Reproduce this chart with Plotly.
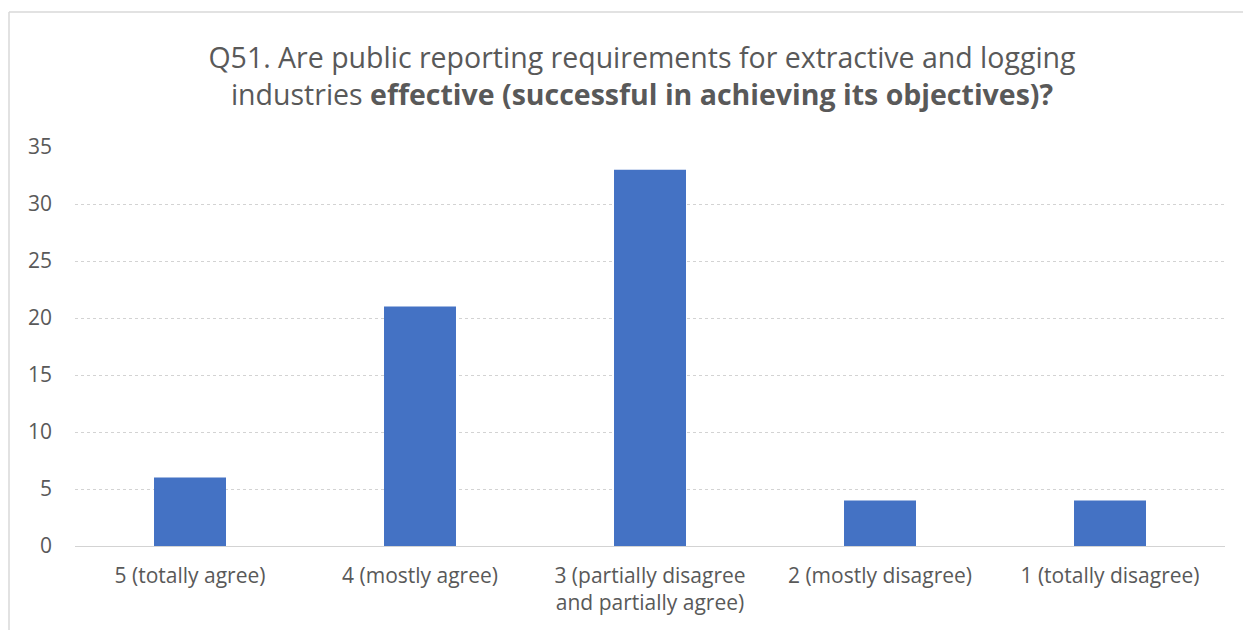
import plotly.graph_objects as go

categories = ["5 (totally agree)", "4 (mostly agree)", "3 (partially disagree<br>and partially agree)",
              "2 (mostly disagree)", "1 (totally disagree)"]
values = [6, 21, 33, 4, 4]
y_ticks = [0, 5, 10, 15, 20, 25, 30, 35]

W, H = 1243, 630
L, R, T, B = 75, 1225, 147, 546
FONT = "Open Sans, Lato, sans-serif"

fig = go.Figure(go.Bar(x=categories, y=values, marker_color="#4472C4",
                       marker_line_width=0, hoverinfo="skip"))

fig.update_layout(
    width=W, height=H,
    margin=dict(l=L, r=W - R, t=T, b=H - B),
    paper_bgcolor="white", plot_bgcolor="white",
    bargap=0.687,
    showlegend=False,
    font=dict(family=FONT, color="#595959", size=21),
    title=dict(
        text="Q51. Are public reporting requirements for extractive and logging<br>industries <b>effective (successful in achieving its objectives)?</b>",
        x=(642 - L) / (R - L), xref="paper", xanchor="center", y=1 - 68 / H, yanchor="middle",
        font=dict(size=28.5, color="#595959", family=FONT),
    ),
    xaxis=dict(showgrid=False, showline=False, ticks="", tickfont=dict(size=21, color="#595959"),
               ticklabelstandoff=15),
    yaxis=dict(range=[0, 35], tickvals=y_ticks, showgrid=True, gridcolor="#d3d3d3", gridwidth=1,
               griddash="dot", zeroline=True, zerolinecolor="#d3d3d3", zerolinewidth=1,
               showline=False, ticks="", tickfont=dict(size=21, color="#595959"),
               ticklabelstandoff=22),
    shapes=[
        dict(type="line", xref="paper", yref="paper", x0=(9 - L) / (R - L), x1=1.2,
             y0=(H - 12 - (H - B)) / (B - T), y1=(H - 12 - (H - B)) / (B - T),
             line=dict(color="#d9d9d9", width=1.5)),
        dict(type="line", xref="paper", yref="paper", x0=(9 - L) / (R - L), x1=(9 - L) / (R - L),
             y0=-0.5, y1=(H - 12 - (H - B)) / (B - T),
             line=dict(color="#d9d9d9", width=1.5)),
    ],
)

fig.write_html("out.html")
